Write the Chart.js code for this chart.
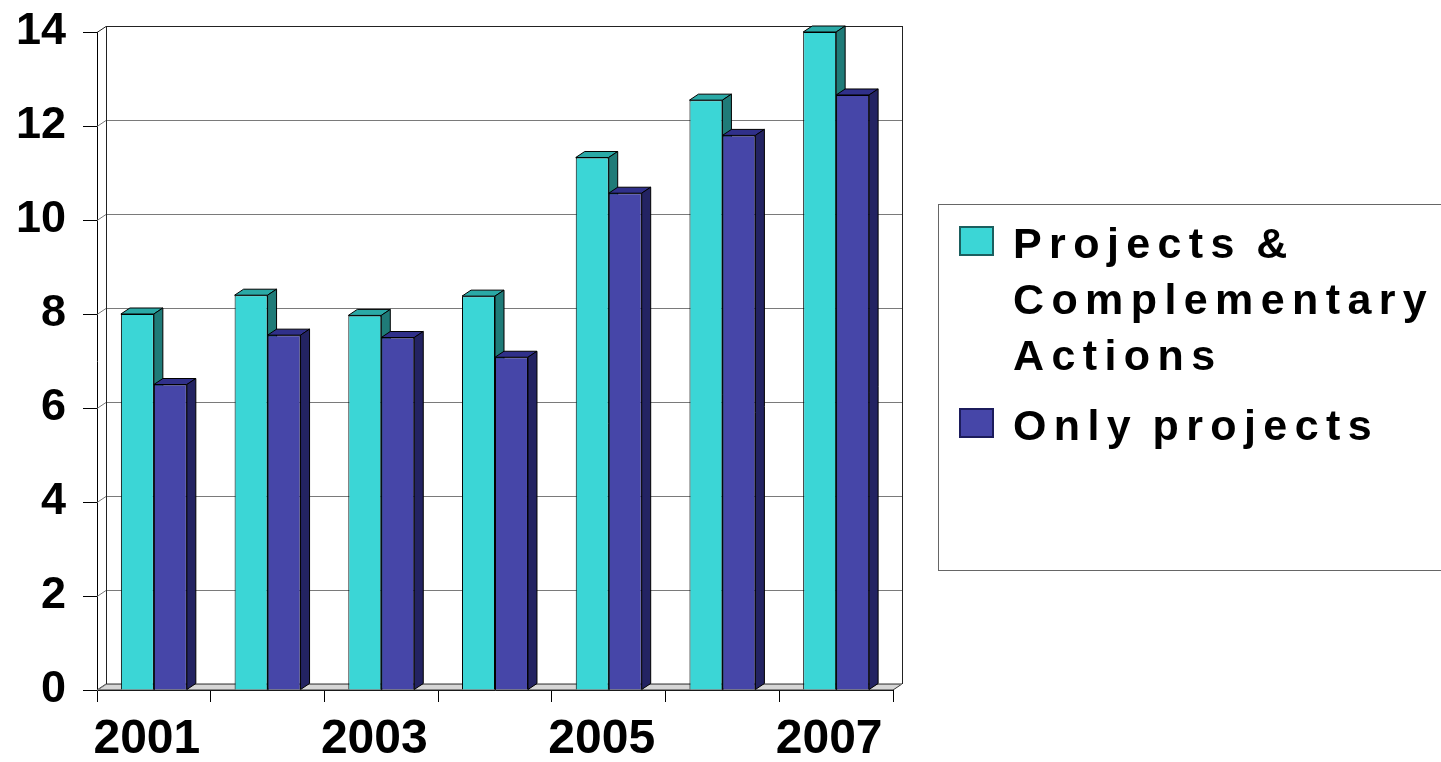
<!DOCTYPE html>
<html>
<head>
<meta charset="utf-8">
<title>Projects per year</title>
<script src="https://cdn.jsdelivr.net/npm/chart.js@4.4.1/dist/chart.umd.min.js"></script>
<style>
  html, body { margin: 0; padding: 0; background: #fff; overflow: hidden; }
  #wrap { position: relative; width: 1441px; height: 762px; }
  #legend {
    position: absolute; left: 938px; top: 204px; width: 560px; height: 367px;
    border: 1px solid #666; box-sizing: border-box; padding-top: 10px;
    font-family: 'Liberation Sans', Arial, sans-serif; font-weight: bold;
    font-size: 43px; letter-spacing: 7.4px; word-spacing: -5px; color: #000;
  }
  .item { position: relative; padding-left: 74px; width: 440px; line-height: 56px; margin-bottom: 14px; }
  .swatch { position: absolute; left: 20px; top: 11px; width: 35px; height: 30px; box-sizing: border-box; border: 2px solid #222; }
</style>
</head>
<body>
<div id="wrap">
  <canvas id="myChart" width="1441" height="762"></canvas>
  <div id="legend"></div>
</div>
<script>
const years = ['2001', '2002', '2003', '2004', '2005', '2006', '2007'];
const projectsAndActions = [8.0, 8.4, 7.97, 8.38, 11.33, 12.55, 14.0];
const onlyProjects = [6.5, 7.55, 7.5, 7.08, 10.57, 11.8, 12.66];
const seriesNames = ['Projects & Complementary Actions', 'Only projects'];
const yMin = 0, yMax = 14, yStep = 2;

// colours for front, top and side faces of each series
const frontColors = ['#3bd6d6', '#4646a8'];
const topColors = ['#2aa9a6', '#30308a'];
const sideColors = ['#1f7b78', '#232362'];

// depth of the fake 3D walls and bars
const DX = 9, DY = 6;

const font = "'Liberation Sans', Arial, sans-serif";

const poly = (ctx, pts, fill) => {
    ctx.beginPath();
    ctx.moveTo(pts[0][0], pts[0][1]);
    pts.slice(1).forEach(p => ctx.lineTo(p[0], p[1]));
    ctx.closePath();
    if (fill) {
        ctx.fillStyle = fill;
        ctx.fill();
    }
    ctx.stroke();
};

const depthPlugin = {
    id: 'depth',
    beforeDatasetsDraw(chart) {
        const ctx = chart.ctx;
        const { left, right, top, bottom } = chart.chartArea;
        const yScale = chart.scales.y;
        ctx.save();
        ctx.lineWidth = 1;

        // floor
        ctx.strokeStyle = '#333';
        poly(ctx, [[left, bottom], [right, bottom], [right + DX, bottom - DY], [left + DX, bottom - DY]], '#d6d6d6');

        // back wall grid lines
        yScale.ticks.forEach(t => {
            const y = Math.round(yScale.getPixelForValue(t.value)) + 0.5;
            ctx.strokeStyle = t.value === yMax ? '#222' : '#7a7a7a';
            ctx.beginPath();
            ctx.moveTo(left, y);
            ctx.lineTo(left + DX, y - DY);
            ctx.lineTo(right + DX, y - DY);
            ctx.stroke();
        });

        // wall edges
        ctx.strokeStyle = '#222';
        ctx.beginPath();
        ctx.moveTo(left + DX + 0.5, top - DY);
        ctx.lineTo(left + DX + 0.5, bottom - DY);
        ctx.moveTo(right + DX + 0.5, top - DY);
        ctx.lineTo(right + DX + 0.5, bottom - DY);
        ctx.stroke();

        // top and side faces of the bars, drawn before the fronts
        ctx.strokeStyle = '#000';
        years.forEach((_, j) => {
            chart.data.datasets.forEach((ds, i) => {
                const bar = chart.getDatasetMeta(i).data[j];
                const l = bar.x - bar.width / 2;
                const r = bar.x + bar.width / 2;
                const y = bar.y;
                poly(ctx, [[l, y], [r, y], [r + DX, y - DY], [l + DX, y - DY]], topColors[i]);
                poly(ctx, [[r, y], [r + DX, y - DY], [r + DX, bar.base - DY], [r, bar.base]], sideColors[i]);
            });
        });
        ctx.restore();
    }
};

const ctx = document.getElementById('myChart').getContext('2d');
const chart = new Chart(ctx, {
    type: 'bar',
    data: {
        labels: years,
        datasets: [
            { label: seriesNames[0], data: projectsAndActions },
            { label: seriesNames[1], data: onlyProjects }
        ].map((ds, i) => ({
            ...ds,
            backgroundColor: frontColors[i],
            borderColor: '#000',
            borderWidth: 1,
            categoryPercentage: 0.58,
            barPercentage: 1
        }))
    },
    options: {
        responsive: false,
        animation: false,
        devicePixelRatio: 1,
        layout: { padding: { top: 32, right: 548, left: 0, bottom: 0 } },
        plugins: { legend: { display: false }, tooltip: { enabled: false } },
        scales: {
            x: {
                grid: { drawOnChartArea: false, drawTicks: true, tickLength: 12, color: '#000' },
                border: { color: '#000', width: 1 },
                ticks: {
                    autoSkip: false,
                    maxRotation: 0,
                    padding: 9,
                    labelOffset: -7,
                    color: '#000',
                    font: { family: font, size: 48, weight: 'bold' },
                    callback: (v, i) => (i % 2 === 0 ? years[i] : '')
                },
                afterFit: scale => { scale.height = 72; }
            },
            y: {
                min: yMin,
                max: yMax,
                grid: { drawOnChartArea: false, drawTicks: true, tickLength: 14, color: '#000' },
                border: { color: '#000', width: 1 },
                ticks: {
                    stepSize: yStep,
                    padding: 17,
                    color: '#000',
                    font: { family: font, size: 45, weight: 'bold' }
                },
                afterFit: scale => {
                    scale.width = 97;
                    scale.paddingTop = 0;
                    scale.paddingBottom = 0;
                }
            }
        }
    },
    plugins: [depthPlugin]
});

// legend built from the chart's own datasets
const legend = document.getElementById('legend');
chart.data.datasets.forEach((ds, i) => {
    const item = document.createElement('div');
    item.className = 'item';
    const swatch = document.createElement('span');
    swatch.className = 'swatch';
    swatch.style.background = ds.backgroundColor;
    swatch.style.borderColor = i === 0 ? '#1b5f5f' : '#1c1c5c';
    item.appendChild(swatch);
    item.appendChild(document.createTextNode(ds.label));
    legend.appendChild(item);
});
</script>
</body>
</html>
